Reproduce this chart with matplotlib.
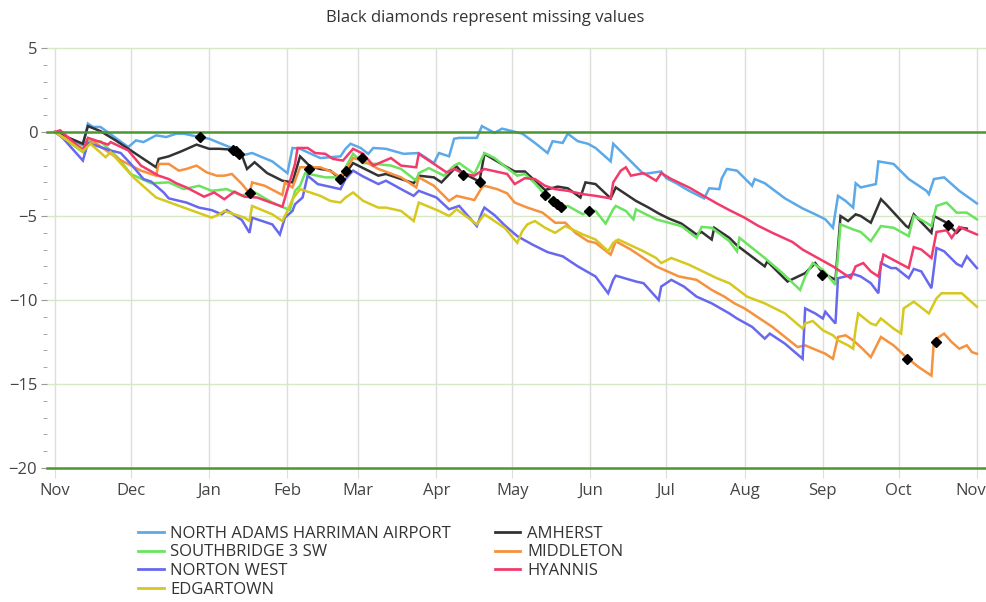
import numpy as np
import pandas as pd
import matplotlib
matplotlib.use("Agg")
import matplotlib.pyplot as plt
import matplotlib.dates as mdates
import matplotlib.transforms as mtransforms
from matplotlib.ticker import MultipleLocator
from matplotlib.lines import Line2D

plt.rcParams['font.family'] = ['Open Sans', 'DejaVu Sans']

# 起点日期, 每个站点: (距起点天数, 累计值)
start_date = pd.Timestamp('2022-11-01')

north_adams = [(0, 0), (11, -0.8), (13, 0.5), (15, 0.3), (18, 0.3), (29, -0.9), (32, -0.5), (35, -0.6),
               (40, -0.2), (44, -0.3), (48, -0.1), (51, -0.1), (57, -0.3), (61, -0.4), (65, -0.65),
               (70, -0.95), (74, -1.4), (78, -1.25), (86, -1.75), (92, -2.45), (94, -0.95), (97, -1.0),
               (105, -1.55), (113, -1.45), (115, -1.0), (117, -0.7), (121, -0.95), (124, -1.3), (126, -0.95),
               (131, -1.0), (138, -1.3), (144, -1.25), (150, -1.85), (152, -1.25), (156, -1.45), (158, -0.4),
               (160, -0.35), (167, -0.35), (169, 0.35), (174, -0.05), (177, 0.2), (185, -0.1), (190, -0.65),
               (195, -1.25), (197, -0.55), (201, -0.65), (203, -0.1), (207, -0.55), (211, -0.7), (214, -0.95),
               (220, -1.75), (221, -0.7), (233, -2.5), (240, -2.35), (242, -2.75), (246, -3.05), (251, -3.5),
               (257, -3.95), (259, -3.35), (263, -3.4), (264, -2.75), (266, -2.2), (270, -2.3), (276, -3.2),
               (277, -2.8), (281, -3.05), (289, -3.95), (296, -4.55), (301, -4.9), (305, -5.2), (308, -5.7),
               (310, -3.8), (313, -4.1), (316, -4.5), (317, -3.05), (319, -3.3), (325, -3.1), (326, -1.75),
               (332, -1.9), (338, -2.8), (345, -3.5), (346, -3.7), (348, -2.8), (352, -2.7), (358, -3.5),
               (365, -4.25)]

amherst = [(0, 0), (11, -0.7), (13, 0.35), (18, 0.05), (24, -0.5), (32, -1.3), (40, -2.1), (41, -1.6),
           (45, -1.45), (50, -1.15), (56, -0.75), (61, -1.0), (65, -1.0), (70, -1.05), (74, -1.4), (76, -2.2),
           (79, -1.8), (84, -2.45), (90, -2.9), (94, -3.0), (97, -1.45), (99, -1.75), (101, -2.05), (105, -2.2),
           (109, -2.3), (113, -2.8), (115, -2.45), (118, -1.85), (122, -2.15), (128, -2.6), (131, -2.5),
           (137, -2.8), (142, -3.05), (144, -2.6), (150, -2.7), (153, -3.0), (159, -2.05), (161, -2.4),
           (168, -2.95), (170, -1.3), (179, -2.1), (182, -2.35), (186, -2.35), (194, -3.45), (199, -3.25),
           (203, -3.35), (208, -3.9), (210, -3.0), (214, -3.1), (220, -3.95), (222, -3.3), (230, -4.1),
           (235, -4.5), (239, -4.85), (243, -5.15), (248, -5.45), (254, -6.1), (256, -5.95), (260, -6.4),
           (261, -5.7), (267, -6.3), (270, -6.75), (281, -8.0), (282, -7.7), (290, -8.9), (297, -8.4),
           (301, -7.8), (304, -8.4), (309, -8.8), (311, -5.0), (314, -5.3), (317, -4.9), (319, -5.0),
           (323, -5.4), (325, -4.7), (327, -4.0), (329, -4.3), (337, -5.6), (338, -5.7), (340, -4.9),
           (347, -6.0), (348, -5.0), (353, -5.4), (357, -6.0), (359, -5.7), (361, -5.75)]

southbridge = [(0, 0), (11, -1.2), (13, -0.55), (18, -0.55), (25, -1.55), (30, -2.5), (38, -3.05), (45, -3.0),
               (51, -3.4), (57, -3.2), (62, -3.5), (68, -3.4), (74, -3.8), (78, -3.5), (86, -4.2), (93, -4.65),
               (95, -3.5), (97, -3.2), (99, -2.45), (107, -2.7), (113, -2.7), (115, -2.1), (118, -1.3),
               (122, -1.85), (127, -1.9), (133, -2.0), (137, -2.2), (143, -2.9), (144, -2.45), (148, -2.15),
               (154, -2.6), (158, -2.0), (160, -1.85), (166, -2.5), (170, -1.25), (174, -1.55), (179, -2.15),
               (183, -2.6), (186, -2.5), (190, -3.05), (194, -3.75), (197, -4.1), (199, -4.3), (200, -4.45),
               (203, -4.4), (209, -4.9), (211, -4.7), (214, -4.7), (218, -5.45), (221, -4.6), (222, -4.4),
               (226, -4.7), (229, -5.2), (230, -4.6), (238, -5.2), (243, -5.4), (248, -5.6), (254, -6.3),
               (256, -5.65), (260, -5.7), (267, -6.5), (270, -7.1), (271, -6.3), (281, -7.5), (288, -8.4),
               (295, -9.4), (297, -8.6), (300, -7.8), (304, -8.2), (309, -9.1), (311, -5.5), (316, -5.8),
               (319, -5.95), (323, -6.5), (327, -5.6), (332, -5.7), (338, -6.2), (340, -5.0), (345, -5.4),
               (347, -5.6), (349, -4.4), (353, -4.2), (357, -4.8), (361, -4.8), (365, -5.2)]

middleton = [(0, 0), (11, -1.0), (13, -0.6), (15, -0.55), (25, -1.6), (34, -2.3), (40, -2.6), (41, -1.9),
             (45, -1.9), (49, -2.3), (52, -2.2), (56, -2.0), (60, -2.4), (64, -2.6), (67, -2.6), (70, -2.5),
             (74, -3.1), (77, -3.65), (78, -3.0), (83, -3.2), (90, -3.75), (91, -3.0), (94, -3.3), (97, -2.1),
             (101, -2.1), (105, -2.1), (110, -2.4), (113, -2.7), (115, -2.3), (118, -1.55), (122, -1.7),
             (128, -2.2), (137, -2.7), (143, -3.3), (144, -2.7), (150, -3.2), (156, -4.1), (159, -3.8),
             (166, -4.05), (169, -3.3), (170, -3.2), (175, -3.4), (179, -3.65), (182, -4.2), (187, -4.5),
             (193, -4.8), (198, -5.4), (202, -5.4), (206, -6.0), (211, -6.5), (214, -6.6), (220, -7.3),
             (222, -6.5), (228, -7.0), (233, -7.5), (238, -8.0), (241, -8.2), (247, -8.6), (254, -8.8),
             (260, -9.4), (265, -9.8), (269, -10.2), (273, -10.5), (278, -11.0), (284, -11.6), (289, -12.2),
             (294, -12.8), (297, -12.7), (305, -13.2), (308, -13.5), (310, -12.2), (313, -12.1), (316, -12.4),
             (319, -12.8), (323, -13.4), (325, -12.8), (327, -12.2), (332, -12.7), (337, -13.4), (342, -14.0),
             (347, -14.5), (348, -12.4), (352, -12.0), (355, -12.5), (358, -12.9), (361, -12.7), (363, -13.1),
             (365, -13.2)]

norton_west = [(0, 0), (3, -0.35), (11, -1.7), (13, -0.65), (18, -0.9), (22, -1.1), (26, -1.25), (30, -1.9),
               (35, -2.8), (38, -2.95), (43, -3.6), (45, -3.95), (52, -4.2), (57, -4.5), (62, -4.65), (66, -4.9),
               (68, -4.65), (74, -5.25), (77, -6.0), (78, -5.1), (86, -5.5), (89, -6.1), (91, -5.1), (94, -4.7),
               (95, -4.3), (98, -3.9), (100, -2.6), (104, -3.1), (107, -3.2), (113, -3.4), (115, -2.8),
               (118, -2.3), (122, -2.65), (128, -3.1), (131, -2.9), (137, -3.4), (142, -3.8), (144, -3.5),
               (151, -3.9), (156, -4.6), (160, -4.4), (167, -5.6), (169, -4.8), (170, -4.5), (174, -4.95),
               (178, -5.55), (183, -6.2), (189, -6.7), (195, -7.15), (201, -7.4), (207, -8.0), (214, -8.6),
               (219, -9.6), (221, -8.8), (222, -8.55), (230, -8.9), (233, -9.0), (239, -10.0), (240, -9.2),
               (244, -8.8), (249, -9.2), (254, -9.8), (260, -10.2), (267, -10.8), (270, -11.1), (276, -11.6),
               (281, -12.3), (283, -12.0), (289, -12.6), (296, -13.5), (297, -10.5), (301, -10.8), (304, -11.1),
               (305, -10.7), (309, -11.4), (310, -8.7), (313, -8.6), (316, -8.45), (319, -8.6), (323, -9.0),
               (326, -9.6), (327, -7.8), (331, -8.1), (333, -8.1), (338, -8.7), (340, -8.15), (343, -8.3),
               (347, -9.3), (349, -6.9), (352, -7.1), (357, -7.85), (359, -8.0), (361, -7.4), (365, -8.1)]

hyannis = [(0, 0), (2, 0.1), (11, -1.1), (13, -0.35), (18, -0.6), (21, -0.75), (22, -0.6), (29, -1.1),
           (34, -2.0), (41, -2.6), (45, -2.8), (48, -3.05), (52, -3.3), (59, -3.85), (63, -3.6), (67, -4.0),
           (71, -3.55), (75, -3.85), (80, -3.9), (90, -4.45), (95, -1.9), (96, -0.95), (100, -0.95),
           (103, -1.25), (107, -1.3), (110, -1.6), (114, -1.7), (118, -1.0), (122, -1.3), (126, -2.0),
           (133, -1.55), (137, -2.0), (143, -2.1), (144, -1.3), (150, -1.9), (155, -2.4), (158, -2.2),
           (162, -2.5), (166, -2.6), (170, -2.2), (179, -2.5), (182, -3.1), (186, -2.75), (190, -2.8),
           (194, -3.2), (198, -3.4), (203, -3.5), (209, -3.7), (214, -3.8), (220, -3.95), (221, -3.0),
           (224, -2.3), (226, -2.1), (228, -2.6), (233, -2.45), (238, -2.9), (240, -2.45), (244, -2.8),
           (251, -3.3), (262, -4.25), (267, -4.65), (273, -5.1), (278, -5.55), (284, -6.0), (292, -6.55),
           (296, -7.0), (302, -7.5), (308, -8.0), (310, -8.2), (315, -8.7), (317, -8.0), (320, -7.8),
           (323, -8.3), (326, -8.6), (328, -7.3), (333, -7.7), (338, -8.1), (340, -6.85), (343, -7.0),
           (347, -7.5), (349, -5.95), (353, -5.85), (355, -6.3), (358, -5.65), (365, -6.1)]

edgartown = [(0, 0), (11, -1.15), (14, -0.7), (20, -1.5), (22, -1.2), (31, -2.7), (40, -3.9), (51, -4.5),
             (62, -5.1), (65, -4.9), (67, -4.7), (75, -5.1), (77, -5.3), (78, -4.4), (86, -4.9), (90, -5.3),
             (92, -4.7), (94, -4.0), (97, -3.4), (101, -3.6), (105, -3.8), (109, -4.1), (113, -4.2),
             (115, -3.9), (118, -3.6), (122, -4.1), (128, -4.5), (131, -4.5), (137, -4.7), (142, -5.3),
             (144, -4.2), (152, -4.7), (156, -5.0), (159, -4.6), (167, -5.5), (170, -4.9), (178, -5.7),
             (183, -6.6), (185, -5.9), (187, -5.5), (190, -5.3), (194, -5.7), (198, -6.0), (202, -5.6),
             (209, -6.1), (214, -6.4), (219, -7.1), (221, -6.6), (223, -6.4), (233, -7.1), (238, -7.5),
             (240, -7.8), (244, -7.5), (251, -7.9), (262, -8.7), (267, -9.0), (274, -9.8), (281, -10.2),
             (285, -10.5), (289, -10.8), (296, -11.7), (297, -11.4), (300, -11.25), (304, -11.8), (308, -12.1),
             (310, -12.4), (314, -12.7), (316, -12.9), (317, -11.7), (318, -10.8), (323, -11.4), (325, -11.5),
             (327, -11.1), (332, -11.7), (335, -12.0), (336, -10.5), (337, -10.4), (340, -10.1), (346, -10.8),
             (349, -9.9), (351, -9.6), (355, -9.6), (359, -9.6), (365, -10.4)]

# 缺失值 (黑色菱形)
missing_days = [57.4, 70.5, 71.7, 72.8, 77.2, 100.6, 112.8, 115.2, 121.5, 161.5, 168.3,
                194.0, 197.1, 198.7, 200.3, 211.4, 303.6, 337.3, 348.8, 353.5]
missing_vals = [-0.3, -1.05, -1.15, -1.3, -3.65, -2.2, -2.8, -2.3, -1.55, -2.55, -2.95,
                -3.75, -4.1, -4.3, -4.45, -4.7, -8.5, -13.5, -12.5, -5.55]

stations = ['NORTH ADAMS HARRIMAN AIRPORT', 'AMHERST', 'SOUTHBRIDGE 3 SW', 'MIDDLETON',
            'NORTON WEST', 'HYANNIS', 'EDGARTOWN']
series = [north_adams, amherst, southbridge, middleton, norton_west, hyannis, edgartown]
colors = ['#5ba9e9', '#333333', '#6be35f', '#f6913d', '#6868ee', '#f23a6c', '#d6c81e']


def to_dates(days):
    return start_date + pd.to_timedelta(np.asarray(days, dtype=float), unit='D')


fig = plt.figure(figsize=(9.87, 6.02), dpi=100)
ax = fig.add_axes([47 / 987, 1 - 468 / 602, 940 / 987, 420 / 602])

# 网格线
for y in [5, -5, -10, -15]:
    ax.axhline(y, color='#d6e8c6', lw=1.0, zorder=0, clip_on=False)
for y in [0, -20]:
    ax.axhline(y, color='#4a9630', lw=1.8, zorder=3, clip_on=False)

handles = {}
for name, data, c in zip(stations, series, colors):
    d, v = zip(*data)
    ln, = ax.plot(to_dates(d), v, color=c, lw=1.8, zorder=2, solid_joinstyle='miter')
    handles[name] = ln

ax.plot(to_dates(missing_days), missing_vals, linestyle='none', marker='D',
        color='black', markersize=5, zorder=4)

ax.set_ylim(-20, 5)
ax.set_xlim(start_date - pd.Timedelta(days=3.2), start_date + pd.Timedelta(days=369))

ax.xaxis.set_major_locator(mdates.MonthLocator())
ax.xaxis.set_major_formatter(mdates.DateFormatter('%b'))
ax.yaxis.set_major_locator(MultipleLocator(5))
ax.yaxis.set_minor_locator(MultipleLocator(1))
ax.grid(axis='x', color='#dcdfd8', lw=1.0, zorder=0)

for s in ax.spines.values():
    s.set_visible(False)
ax.tick_params(axis='x', length=7, color='#dcdfd8', labelsize=12, labelcolor='#444444', pad=4)
ax.tick_params(axis='y', which='major', length=4, color='#999999', labelsize=12,
               labelcolor='#444444', pad=3)
ax.tick_params(axis='y', which='minor', length=3, color='#999999')

# 最右侧的 "Nov" 稍微左移, 避免被裁切
fig.canvas.draw()
last_lbl = ax.get_xticklabels()[-1]
last_lbl.set_transform(last_lbl.get_transform() +
                       mtransforms.ScaledTranslation(-6 / 100, 0, fig.dpi_scale_trans))

fig.text(485 / 987, 1 - 18 / 602, 'Black diamonds represent missing values',
         ha='center', va='center', fontsize=12, color='#333333')

order = ['NORTH ADAMS HARRIMAN AIRPORT', 'SOUTHBRIDGE 3 SW', 'NORTON WEST', 'EDGARTOWN',
         'AMHERST', 'MIDDLETON', 'HYANNIS']
leg_handles = [Line2D([], [], color=handles[n].get_color(), lw=2) for n in order]
fig.legend(leg_handles, order, loc='upper left', bbox_to_anchor=(138 / 987, 1 - 526 / 602),
           ncol=2, frameon=False, fontsize=12, handlelength=1.55, handletextpad=0.4,
           columnspacing=2.6, labelspacing=0.15, borderpad=0, borderaxespad=0,
           labelcolor='#333333')

fig.savefig('out.png', dpi=100)
